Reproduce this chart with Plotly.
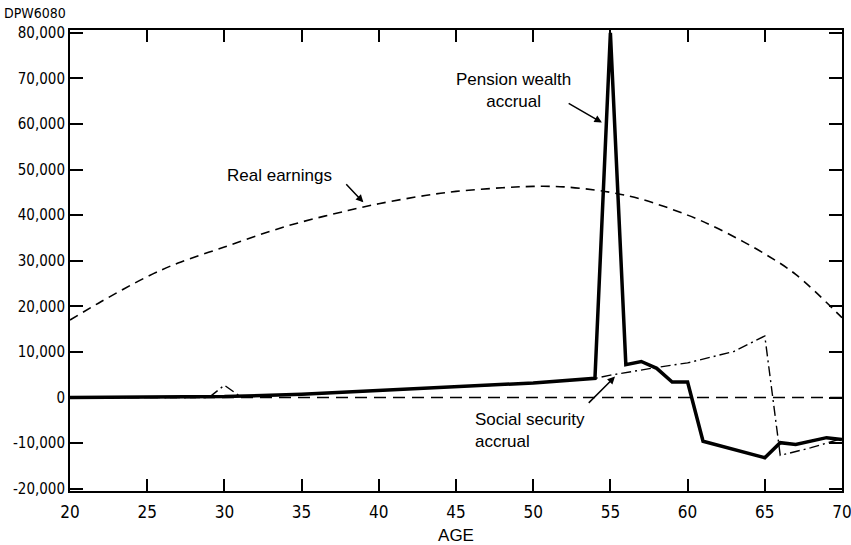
import plotly.graph_objects as go

# ---- data ----
earn_age = [20, 22, 25, 27, 30, 33, 35, 38, 40, 43, 45, 48, 50, 52, 54, 55, 57, 60, 62, 65, 67, 70]
earn_val = [17000, 21000, 26500, 29500, 33000, 36500, 38500, 41000, 42500, 44300, 45200, 46000,
            46300, 46200, 45500, 45000, 43500, 40000, 37000, 31500, 27000, 17500]

pen_age = [20, 30, 35, 40, 45, 50, 54, 55, 56, 57, 58, 59, 60, 61, 65, 66, 67, 69, 70]
pen_val = [0, 200, 700, 1500, 2300, 3200, 4200, 80000, 7200, 7900, 6400, 3400, 3400,
           -9600, -13200, -9900, -10300, -8800, -9200]

ss_age = [20, 29, 30, 31, 35, 40, 45, 50, 54, 55, 58, 60, 63, 65, 66, 68, 70]
ss_val = [0, 0, 2700, 300, 650, 1450, 2250, 3150, 4200, 4900, 6600, 7600, 10100, 13500,
          -12700, -11000, -9000]

zero_age = [20, 70]
zero_val = [0, 0]

y_ticks = [-20000, -10000, 0, 10000, 20000, 30000, 40000, 50000, 60000, 70000, 80000]
y_labels = ["-20,000", "-10,000", "0", "10,000", "20,000", "30,000", "40,000",
            "50,000", "60,000", "70,000", "80,000"]
x_ticks = [20, 25, 30, 35, 40, 45, 50, 55, 60, 65, 70]
x_labels = [str(v) for v in x_ticks]

COND = "Liberation Sans Narrow, DejaVu Sans Condensed, Arial Narrow, Liberation Sans, sans-serif"
TXT = "Liberation Sans, Arial, sans-serif"

fig = go.Figure()
fig.add_trace(go.Scatter(x=zero_age, y=zero_val, mode="lines",
                         line=dict(color="black", width=1.6, dash="12px,7px"), hoverinfo="skip"))
fig.add_trace(go.Scatter(x=earn_age, y=earn_val, mode="lines", line_shape="spline",
                         line=dict(color="black", width=1.6, dash="9px,6px")))
fig.add_trace(go.Scatter(x=ss_age, y=ss_val, mode="lines",
                         line=dict(color="black", width=1.4, dash="10px,4px,2px,4px")))
fig.add_trace(go.Scatter(x=pen_age, y=pen_val, mode="lines",
                         line=dict(color="black", width=3.5)))

annos = [
    dict(x=48.7, y=67300, text="Pension wealth<br>accrual", showarrow=False,
         font=dict(family=TXT, size=17, color="black"), align="center"),
    dict(x=54.45, y=60300, ax=52.2, ay=64700, axref="x", ayref="y", text="",
         showarrow=True, arrowhead=2, arrowsize=1, arrowwidth=1.5, arrowcolor="black"),
    dict(x=33.6, y=48800, text="Real earnings", showarrow=False,
         font=dict(family=TXT, size=17, color="black")),
    dict(x=39.0, y=42800, ax=37.8, ay=47100, axref="x", ayref="y", text="",
         showarrow=True, arrowhead=2, arrowsize=1, arrowwidth=1.5, arrowcolor="black"),
    dict(x=46.1, y=-7200, text="Social security<br>accrual", showarrow=False, xanchor="left",
         align="left", font=dict(family=TXT, size=17, color="black")),
    dict(x=55.3, y=4600, ax=53.5, ay=-1500, axref="x", ayref="y", text="",
         showarrow=True, arrowhead=2, arrowsize=1, arrowwidth=1.5, arrowcolor="black"),
    dict(x=0, y=1, xref="paper", yref="paper", xanchor="left", yanchor="bottom",
         xshift=-68, yshift=7, text="DPW6080", showarrow=False,
         font=dict(family=COND, size=14, color="black")),
]

fig.update_layout(
    width=851, height=545,
    margin=dict(l=70, r=9, t=30, b=54),
    paper_bgcolor="white", plot_bgcolor="white",
    showlegend=False,
    annotations=annos,
    xaxis=dict(range=[20, 70], tickvals=x_ticks, ticktext=x_labels, automargin=False,
               ticks="inside", ticklen=12, tickwidth=1.5, tickcolor="black",
               ticklabeloverflow="allow", ticklabelstandoff=5,
               showline=True, linecolor="black", linewidth=2, mirror="allticks",
               showgrid=False, zeroline=False,
               tickfont=dict(family=COND, size=17, color="black"),
               title=dict(text="AGE", font=dict(family=TXT, size=17, color="black"), standoff=10)),
    yaxis=dict(range=[-20500, 80600], tickvals=y_ticks, ticktext=y_labels, automargin=False,
               ticks="inside", ticklen=13, tickwidth=1.5, tickcolor="black",
               ticklabeloverflow="allow",
               showline=True, linecolor="black", linewidth=2, mirror="allticks",
               showgrid=False, zeroline=False,
               tickfont=dict(family=COND, size=15, color="black")),
)

# remove the default 8px page margin so the figure sits at the window's corner
fig.write_html("out.html", config={"displayModeBar": False},
               post_script="document.body.style.margin='0px';document.body.style.overflow='hidden';")
